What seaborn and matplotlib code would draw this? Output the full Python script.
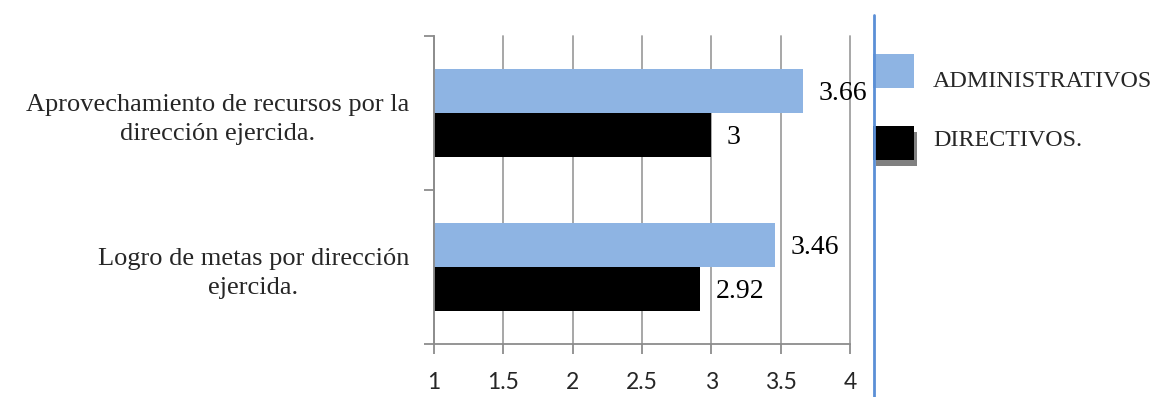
import matplotlib
matplotlib.use("Agg")
import matplotlib.pyplot as plt
import seaborn as sns
import pandas as pd
from matplotlib.patches import Rectangle
from matplotlib.lines import Line2D

# Mean scores per aspect of the direction, by respondent group
categories = ["Aprovechamiento de recursos por la\ndirección ejercida.",
              "Logro de metas por dirección\nejercida."]
groups = ["ADMINISTRATIVOS", "DIRECTIVOS."]
administrativos = [3.66, 3.46]
directivos = [3.0, 2.92]
value_labels_admin = ["3.66", "3.46"]
value_labels_dir = ["3", "2.92"]
x_ticks = [1, 1.5, 2, 2.5, 3, 3.5, 4]
x_tick_labels = ["1", "1.5", "2", "2.5", "3", "3.5", "4"]

colors = {"ADMINISTRATIVOS": "#8eb4e3", "DIRECTIVOS.": "#000000"}

df = pd.DataFrame({
    "categoria": categories * 2,
    "grupo": [groups[0]] * len(categories) + [groups[1]] * len(categories),
    "valor": administrativos + directivos,
})

sns.set_style("white")
serif = "Liberation Serif"

fig = plt.figure(figsize=(11.57, 3.97), dpi=100)
ax = fig.add_axes([434 / 1157, 1 - 344 / 397, 416 / 1157, 308 / 397])

sns.barplot(data=df, y="categoria", x="valor", hue="grupo", hue_order=groups,
            order=categories, palette=colors, width=0.57, orient="h",
            saturation=1, legend=False, ax=ax, edgecolor="none", linewidth=0)

ax.set_xlim(1, 4)
ax.set_ylim(1.5, -0.5)
ax.set_xticks(x_ticks)
ax.set_xticklabels(x_tick_labels, fontfamily="Lato", fontsize=16.5)
ax.grid(axis="x", color="#a0a0a0", linewidth=1.3)
for gl in ax.get_xgridlines():
    gl.set_clip_on(False)
ax.grid(axis="y", visible=False)
ax.set_axisbelow(True)
ax.set_xlabel("")
ax.set_ylabel("")

for side in ["top", "right"]:
    ax.spines[side].set_visible(False)
for side in ["left", "bottom"]:
    ax.spines[side].set_color("#8c8c8c")
    ax.spines[side].set_linewidth(1.3)

ax.tick_params(axis="x", length=7, width=1.3, color="#8c8c8c", pad=13,
               direction="out", bottom=True)
ax.set_yticks([0, 1])
ax.set_yticklabels(categories, fontfamily=serif, fontsize=19)
for lbl in ax.get_yticklabels():
    lbl.set_multialignment("center")
    lbl.set_linespacing(1.45)
ax.tick_params(axis="y", length=0, pad=18)
ax.set_yticks([-0.5, 0.5, 1.5], minor=True)
ax.tick_params(axis="y", which="minor", length=7, width=1.3, color="#8c8c8c",
               left=True)

# Value annotations next to each bar
containers = ax.containers
for cont, labels in zip(containers, [value_labels_admin, value_labels_dir]):
    for bar, txt in zip(cont, labels):
        y = bar.get_y() + bar.get_height() / 2
        ax.annotate(txt, (bar.get_width(), y), xytext=(11, -1.5),
                    textcoords="offset points", va="center", ha="left",
                    fontfamily=serif, fontsize=20, color="black")

# Legend area, separated by a vertical rule
W, H = 1157, 397
fig.add_artist(Line2D([873.5 / W, 873.5 / W], [0, 1 - 15 / H],
                      color="#5b8fd6", linewidth=2, transform=fig.transFigure))
legend_rows = [(54, 88, 87), (126, 160, 146)]
for (top, bottom, baseline), name in zip(legend_rows, groups):
    if name == groups[1]:
        fig.add_artist(Rectangle((876 / W, 1 - (bottom + 6) / H), 41 / W,
                                 (bottom - top) / H, facecolor="#808080",
                                 edgecolor="none", transform=fig.transFigure))
    fig.add_artist(Rectangle((873 / W, 1 - bottom / H), 41 / W,
                             (bottom - top) / H, facecolor=colors[name],
                             edgecolor="none", transform=fig.transFigure))
    fig.text(933 / W, 1 - baseline / H, name, fontfamily=serif,
             fontsize=17.3, va="baseline", ha="left")

fig.savefig("out.png", dpi=100)
